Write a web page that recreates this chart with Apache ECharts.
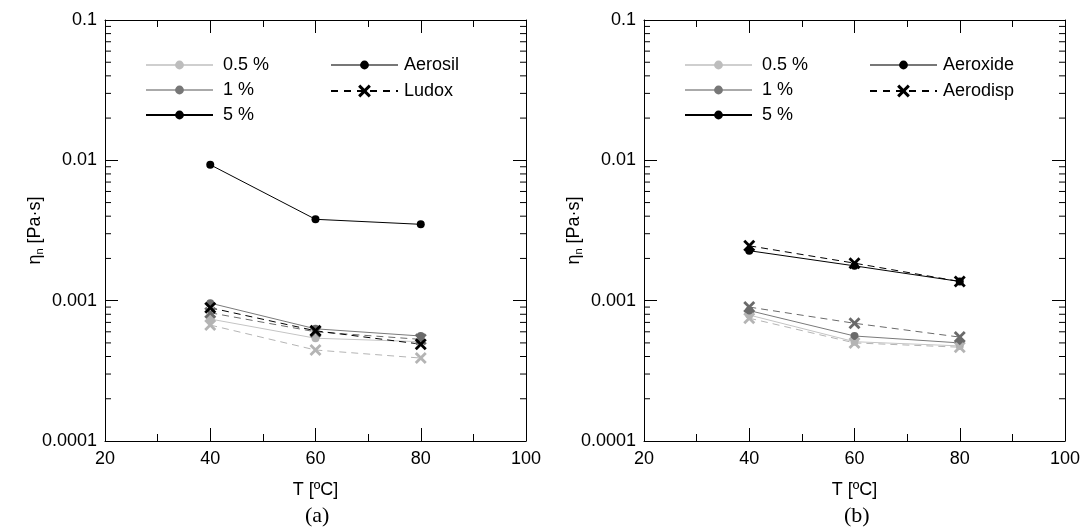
<!DOCTYPE html>
<html><head><meta charset="utf-8">
<script src="https://cdn.jsdelivr.net/npm/echarts@6/dist/echarts.min.js"></script>
<style>html,body{margin:0;padding:0;background:#fff}#c{width:1086px;height:528px}</style>
</head><body><div id="c"></div>
<script>
// ---- data ----
const temps = [40, 60, 80];
const yTickLabels = ['0.0001', '0.001', '0.01', '0.1'];
const yMinorTicks = [2e-4,3e-4,4e-4,5e-4,6e-4,7e-4,8e-4,9e-4,2e-3,3e-3,4e-3,5e-3,6e-3,7e-3,8e-3,9e-3,2e-2,3e-2,4e-2,5e-2,6e-2,7e-2,8e-2,9e-2];
const concLabels = ['0.5 %', '1 %', '5 %'];
// panel (a)
const aerosil05 = [0.00074, 0.00054, 0.00051];
const aerosil1  = [0.00096, 0.00063, 0.00056];
const aerosil5  = [0.0093, 0.0038, 0.0035];
const ludox05   = [0.00067, 0.000445, 0.00039];
const ludox1    = [0.00082, 0.00060, 0.00053];
const ludox5    = [0.00089, 0.00061, 0.00049];
// panel (b)
const aeroxide05 = [0.00079, 0.00051, 0.000476];
const aeroxide1  = [0.00085, 0.00056, 0.00050];
const aeroxide5  = [0.00227, 0.00177, 0.00137];
const aerodisp05 = [0.00075, 0.00050, 0.000466];
const aerodisp1  = [0.00090, 0.00069, 0.00055];
const aerodisp5  = [0.00246, 0.00185, 0.00137];

const FONT = 'Liberation Sans, Arial, sans-serif';
const LIGHT = '#b4b4b4', LIGHTLINE = '#c4c4c4', DARK = '#6a6a6a', DARKLINE = '#7a7a7a', BLACK = '#000';
const XPATH = 'path://M0,2 L2,0 L6,4 L10,0 L12,2 L8,6 L12,10 L10,12 L6,8 L2,12 L0,10 L4,6 Z';

function pts(vals){ return temps.map((t,i)=>[t, vals[i]]); }

function solid(name, vals, mc, lc, gi){
  return {name, type:'line', xAxisIndex: gi*2, yAxisIndex: gi*2, data: pts(vals),
    symbol:'circle', symbolSize: 8, itemStyle:{color: mc}, lineStyle:{color: lc, width: 1},
    silent:true, animation:false, z: 3};
}
function dashed(name, vals, c, gi){
  return {name, type:'line', xAxisIndex: gi*2, yAxisIndex: gi*2, data: pts(vals),
    symbol: XPATH, symbolSize: 12, itemStyle:{color: c}, lineStyle:{color: c, width: 1, type:[7,5]},
    silent:true, animation:false, z: 4};
}

function xAx(gi, pos){
  return {type:'value', gridIndex: gi, position: pos, min: 20, max: 100, interval: 20,
    axisLine:{show:true, onZero:false, lineStyle:{color:'#000', width:1}},
    axisTick:{show:true, inside:true, length:13, lineStyle:{color:'#000'}},
    minorTick:{show:true, splitNumber:2, length:7, lineStyle:{color:'#000'}},
    splitLine:{show:false},
    axisLabel:{show: pos==='bottom', color:'#000', fontSize:18, fontFamily:FONT, margin:9},
    name: pos==='bottom' ? 'T [ºC]' : '', nameLocation:'middle', nameGap: 40,
    nameTextStyle:{color:'#000', fontSize:18, fontFamily:FONT}};
}
function yAx(gi, pos){
  return {type:'log', logBase:10, gridIndex: gi, position: pos, min: 0.0001, max: 0.1,
    axisLine:{show:true, onZero:false, lineStyle:{color:'#000', width:1}},
    axisTick:{show:true, inside:true, length:13, lineStyle:{color:'#000'}},
    splitLine:{show:false},
    axisLabel:{show: pos==='left', color:'#000', fontSize:18, fontFamily:FONT, margin:8,
      formatter: v => yTickLabels[Math.round(Math.log10(v)) + 4]},
    name: pos==='left' ? '{e|η}{s|n}{e| [Pa·s]}' : '', nameLocation:'middle', nameGap: 60,
    nameMoveOverlap: false,
    nameTextStyle:{color:'#000', fontFamily:FONT,
      rich:{e:{fontSize:18, fontFamily:FONT, color:'#000'}, s:{fontSize:11, fontFamily:FONT, color:'#000', verticalAlign:'bottom', padding:[8,0,0,0]}}}};
}
function minorSeries(gi){
  return {type:'custom', xAxisIndex: gi*2, yAxisIndex: gi*2, silent:true, animation:false, clip:false,
    data: yMinorTicks.map(v=>[20, v]),
    renderItem(params, api){
      const v = api.value(1);
      const l = api.coord([20, v]), r = api.coord([100, v]);
      return {type:'group', children:[
        {type:'line', shape:{x1:l[0], y1:l[1], x2:l[0]+6, y2:l[1]}, style:{stroke:'#000', lineWidth:1}},
        {type:'line', shape:{x1:r[0], y1:r[1], x2:r[0]-6, y2:r[1]}, style:{stroke:'#000', lineWidth:1}}
      ]};
    }};
}
// legend-only series
function legendSolid(name, mc, lc){
  return {name, type:'line', data:[], symbol:'circle', symbolSize:8, itemStyle:{color:mc}, lineStyle:{color:lc, width:1.5}, xAxisIndex:0, yAxisIndex:0};
}
function legendDashed(name){
  return {name, type:'line', data:[], symbol:XPATH, symbolSize:12, itemStyle:{color:BLACK}, lineStyle:{color:BLACK, width:1.2, type:[7,6]}, xAxisIndex:0, yAxisIndex:0};
}
// one legend component per entry: centre row y, icon height (symbol = 0.8 * height)
function legend(name, left, cy, ih, pad){
  return {data:[name], orient:'vertical', left, top: cy - 10, padding:0, itemWidth: 67, itemHeight: ih,
    selectedMode:false,
    textStyle:{fontSize:18, fontFamily:FONT, color:'#000', lineHeight:20, padding:[0,0,0,pad]}};
}
const rows = [65, 90, 115];

const option = {
  animation:false,
  grid:[{left:105, right:560, top:20, bottom:87}, {left:644, right:21, top:20, bottom:87}],
  xAxis:[xAx(0,'bottom'), xAx(0,'top'), xAx(1,'bottom'), xAx(1,'top')],
  yAxis:[yAx(0,'left'), yAx(0,'right'), yAx(1,'left'), yAx(1,'right')],
  legend:[
    ...concLabels.map((n,i)=>legend(n, 145, rows[i], 11, 5)),
    legend('Aerosil', 330, 65, 11, 1), legend('Ludox', 330, 91, 16, 1),
    ...concLabels.map((n,i)=>legend(n, 684, rows[i], 11, 5)),
    legend('Aeroxide', 869, 65, 11, 1), legend('Aerodisp', 869, 91, 16, 1)
  ],
  title:[{text:'(a)', left:300, top:500, textStyle:{fontFamily:'Liberation Serif, Times New Roman, serif', fontSize:22, fontWeight:'normal', color:'#000'}},
         {text:'(b)', left:839, top:500, textStyle:{fontFamily:'Liberation Serif, Times New Roman, serif', fontSize:22, fontWeight:'normal', color:'#000'}}],
  series:[
    legendSolid('0.5 %', '#bdbdbd', '#cfcfcf'),
    legendSolid('1 %', '#777', '#aaa'),
    legendSolid('5 %', BLACK, BLACK),
    legendSolid('Aerosil', BLACK, '#777'),
    legendDashed('Ludox'),
    legendSolid('Aeroxide', BLACK, '#777'),
    legendDashed('Aerodisp'),
    minorSeries(0), minorSeries(1),
    // panel a
    dashed('Ludox 0.5', ludox05, LIGHT, 0),
    solid('Aerosil 0.5', aerosil05, LIGHT, LIGHTLINE, 0),
    solid('Aerosil 1', aerosil1, DARK, DARKLINE, 0),
    dashed('Ludox 1', ludox1, DARK, 0),
    solid('Aerosil 5', aerosil5, BLACK, BLACK, 0),
    dashed('Ludox 5', ludox5, BLACK, 0),
    // panel b
    dashed('Aerodisp 0.5', aerodisp05, LIGHT, 1),
    solid('Aeroxide 0.5', aeroxide05, LIGHT, LIGHTLINE, 1),
    solid('Aeroxide 1', aeroxide1, DARK, DARKLINE, 1),
    dashed('Aerodisp 1', aerodisp1, DARK, 1),
    solid('Aeroxide 5', aeroxide5, BLACK, BLACK, 1),
    dashed('Aerodisp 5', aerodisp5, BLACK, 1)
  ]
};
const chart = echarts.init(document.getElementById('c'), null, {renderer:'canvas'});
chart.setOption(option);
</script></body></html>
